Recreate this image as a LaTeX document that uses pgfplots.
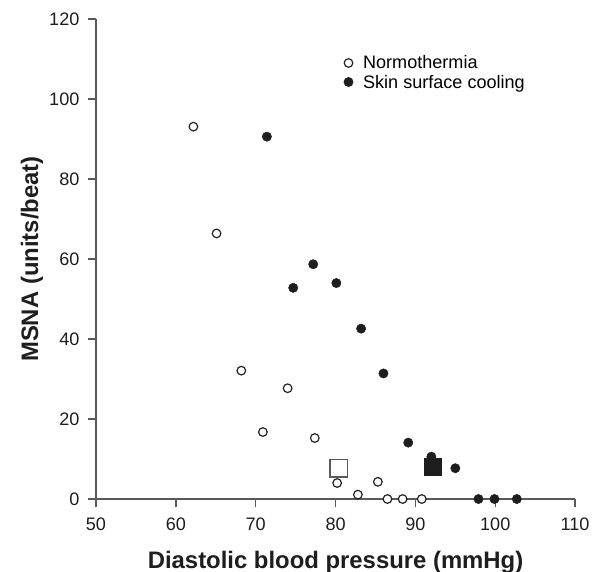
\documentclass[border=0pt]{standalone}
\usepackage{fontspec}
\setmainfont{Liberation Sans}
\usepackage{pgfplots}
\pgfplotsset{compat=1.18}
\definecolor{axgray}{RGB}{90,90,90}
\definecolor{ink}{RGB}{30,30,30}

\begin{document}
\begin{tikzpicture}
\useasboundingbox (-57.9pt,-44pt) rectangle (302.2pt,301pt);
\begin{axis}[
  at={(0,0)}, anchor=south west,
  scale only axis, width=289pt, height=289.5pt,
  xmin=50, xmax=110, ymin=0, ymax=120,
  xtick={50,60,...,110}, ytick={0,20,...,120},
  axis x line*=bottom, axis y line*=left,
  axis line style={axgray, line width=0.8pt},
  tick align=outside, major tick length=5pt,
  tick style={axgray, line width=0.8pt},
  tick label style={font=\fontsize{10.9}{13}\selectfont, text=ink},
  xticklabel style={yshift=-3pt},
  yticklabel style={xshift=-1.5pt},
  /pgf/number format/assume math mode=true,
  xlabel={Diastolic blood pressure (mmHg)},
  ylabel={MSNA (units/beat)},
  label style={font=\fontsize{14.4}{17}\selectfont\bfseries, text=ink},
  xlabel style={at={(axis description cs:0.5,-0.132)}, anchor=center},
  ylabel style={at={(axis description cs:-0.1336,0.5)}, anchor=center},
  clip=false,
  legend cell align=left,
  legend image code/.code={\draw[#1] plot coordinates {(0.1cm,0.45pt)};},
  legend style={at={(axis cs:81.0,111.3)}, anchor=north west,
    draw=none, fill=none, inner sep=0pt, row sep=0pt, column sep=5pt,
    font=\fontsize{10.9}{11.5}\selectfont,
    nodes={inner sep=1pt, text height=7.9pt, text depth=1.6pt}},
]
% Normothermia
\addplot[only marks, mark=*, mark size=2.6pt,
  mark options={draw=ink, fill=white, line width=0.7pt}] coordinates {
  (62.2,93.1) (65.1,66.4) (68.2,32.1) (74.0,27.7) (70.9,16.75) (77.4,15.25)
  (80.2,4.0) (82.8,1.1) (85.3,4.3) (86.5,0) (88.4,0) (90.8,0)
};
\addlegendentry{Normothermia}
% Skin surface cooling
\addplot[only marks, mark=*, mark size=2.8pt,
  mark options={draw=ink, fill=ink, line width=0.3pt}] coordinates {
  (71.4,90.6) (77.2,58.7) (74.7,52.8) (80.1,54.0) (83.2,42.6) (86.0,31.4)
  (89.1,14.1) (92.0,10.6) (95.0,7.7) (97.9,0) (99.9,0) (102.7,0)
};
\addlegendentry{Skin surface cooling}
% group means
\addplot[forget plot, only marks, mark=square*, mark size=5.2pt,
  mark options={draw=axgray, fill=white, line width=0.8pt}] coordinates {(80.4,7.7)};
\addplot[forget plot, only marks, mark=square*, mark size=5.2pt,
  mark options={draw=ink, fill=ink, line width=0.5pt}] coordinates {(92.2,8.1)};
\end{axis}
\end{tikzpicture}
\end{document}
